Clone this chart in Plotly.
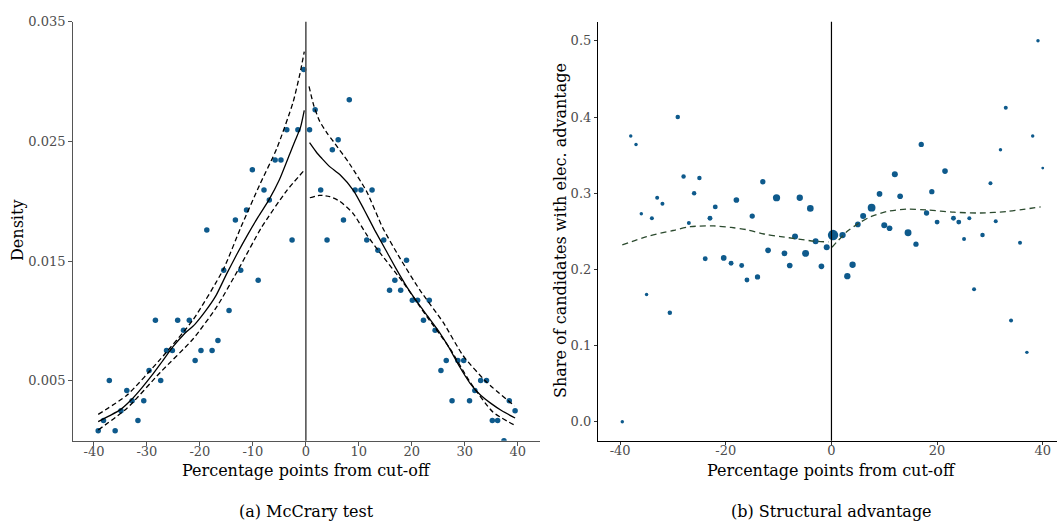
import plotly.graph_objects as go

# ---------------- (a) McCrary test: binned density around the cut-off ----------------
bins_below = [-39.2, -38.2, -37.1, -36.0, -34.9, -33.8, -32.8, -31.7, -30.6, -29.6,
              -28.4, -27.4, -26.3, -25.2, -24.2, -23.1, -22.0, -20.9, -19.8, -18.7,
              -17.7, -16.6, -15.5, -14.5, -13.3, -12.3, -11.2, -10.1, -9.0, -7.9,
              -6.9, -5.8, -4.7, -3.6, -2.6, -1.5, -0.4]
density_below = [0.00084, 0.00168, 0.00503, 0.00084, 0.00251, 0.00419, 0.00335, 0.00168,
                 0.00335, 0.00587, 0.01006, 0.00503, 0.00754, 0.00754, 0.01006, 0.00922,
                 0.01006, 0.00670, 0.00754, 0.01760, 0.00754, 0.00838, 0.01425, 0.01089,
                 0.01844, 0.01425, 0.01927, 0.02263, 0.01341, 0.02095, 0.02011, 0.02346,
                 0.02346, 0.02598, 0.01676, 0.02598, 0.03101]

bins_above = [0.7, 1.75, 2.8, 4.0, 5.0, 6.1, 7.1, 8.2, 9.3, 10.4, 11.5, 12.5, 13.6, 14.7,
              15.8, 16.8, 17.9, 19.0, 20.1, 21.1, 22.2, 23.3, 24.4, 25.5, 26.5, 27.6,
              28.7, 29.8, 30.9, 31.9, 33.0, 34.1, 35.2, 36.2, 37.4, 38.4, 39.5]
density_above = [0.02598, 0.02765, 0.02095, 0.01676, 0.02430, 0.02514, 0.01844, 0.02849,
                 0.02095, 0.02095, 0.01676, 0.02095, 0.01592, 0.01676, 0.01257, 0.01341,
                 0.01257, 0.01508, 0.01173, 0.01173, 0.01006, 0.01173, 0.00922, 0.00587,
                 0.00670, 0.00335, 0.00670, 0.00670, 0.00335, 0.00419, 0.00503, 0.00503,
                 0.00168, 0.00168, 0.0, 0.00335, 0.00251]

# local linear density fit and 95% band, left of the cut-off
fit_below_x = [-39.2, -37, -35, -33, -31, -29, -27, -25, -23, -21, -19, -17, -15, -13,
               -11, -9, -7, -5, -3, -2, -1, -0.3]
fit_below_y = [0.0016, 0.0021, 0.0026, 0.0034, 0.0044, 0.0055, 0.0067, 0.0079, 0.0089,
               0.0097, 0.0108, 0.0121, 0.0139, 0.0156, 0.0172, 0.0187, 0.0201, 0.0218,
               0.0240, 0.0251, 0.0262, 0.0276]
hi_below_x = [-39.2, -33.8, -27.5, -21.3, -15.6, -12.3, -8.7, -5.5, -2.4, -1.1, -0.3]
hi_below_y = [0.0022, 0.0038, 0.0068, 0.0101, 0.0143, 0.0178, 0.0214, 0.0244, 0.0283,
              0.0307, 0.0325]
lo_below_x = [-39.2, -33.8, -27.5, -21.3, -16.8, -12.5, -8.4, -3.6, -0.3]
lo_below_y = [0.0009, 0.0027, 0.0057, 0.0085, 0.0112, 0.0145, 0.0178, 0.0209, 0.0226]

# same, right of the cut-off
fit_above_x = [0.7, 2, 3, 4.5, 6.5, 9, 11, 13, 15, 17, 19, 21, 23, 25, 27, 29, 31, 33,
               35, 37, 39.5]
fit_above_y = [0.0249, 0.0241, 0.0236, 0.0229, 0.0222, 0.0209, 0.0193, 0.0176, 0.0160,
               0.0144, 0.0129, 0.0116, 0.0104, 0.0092, 0.0078, 0.0062, 0.0048, 0.0038,
               0.0031, 0.0025, 0.0019]
hi_above_x = [0.6, 1.5, 2.6, 4, 5.2, 8.3, 11.5, 14.5, 17.7, 21.5, 25.9, 29.7, 34.1, 39.4]
hi_above_y = [0.0296, 0.0280, 0.0267, 0.0257, 0.0250, 0.0231, 0.0208, 0.0178, 0.0153,
              0.0126, 0.0099, 0.0071, 0.0049, 0.0029]
lo_above_x = [0.75, 2.6, 4.5, 6.4, 8.9, 11.5, 14.0, 18.4, 22.8, 27.2, 31.0, 35.3, 39.4]
lo_above_y = [0.0203, 0.0205, 0.0204, 0.0200, 0.0190, 0.0172, 0.0157, 0.0132, 0.0104,
              0.0077, 0.0049, 0.0024, 0.0013]

# ---------------- (b) Structural advantage ----------------
margin_pp = [-39.6, -38.0, -37.0, -36.0, -35.0, -34.0, -33.0, -32.0, -30.6, -29.1,
             -28.0, -27.0, -26.0, -25.0, -23.9, -23.0, -22.0, -20.4, -19.0, -18.0,
             -17.0, -16.0, -15.0, -14.0, -13.0, -12.0, -10.4, -8.9, -7.9, -6.9,
             -6.0, -4.9, -4.0, -3.0, -1.9, -0.9, 0.3, 2.1, 3.0, 4.0,
             5.0, 6.0, 7.6, 9.1, 10.0, 11.0, 12.0, 13.0, 14.5, 16.0,
             17.0, 18.0, 19.0, 20.0, 21.5, 23.1, 24.1, 25.1, 26.1, 27.0,
             28.6, 30.1, 31.1, 32.0, 33.0, 34.0, 35.7, 37.0, 38.1, 39.1, 40.0]
share_adv = [0.000, 0.375, 0.364, 0.273, 0.167, 0.267, 0.294, 0.286, 0.143, 0.400,
             0.322, 0.261, 0.300, 0.320, 0.214, 0.267, 0.282, 0.215, 0.208, 0.291,
             0.205, 0.186, 0.270, 0.190, 0.315, 0.225, 0.294, 0.221, 0.205, 0.243,
             0.294, 0.221, 0.280, 0.237, 0.204, 0.229, 0.245, 0.245, 0.191, 0.206,
             0.259, 0.270, 0.281, 0.299, 0.258, 0.254, 0.325, 0.296, 0.248, 0.233,
             0.364, 0.274, 0.302, 0.262, 0.329, 0.267, 0.262, 0.240, 0.267, 0.174,
             0.245, 0.313, 0.263, 0.357, 0.412, 0.133, 0.235, 0.091, 0.375, 0.500, 0.333]
n_obs = [3, 3, 3, 3, 3, 4, 4, 4, 5, 5,
         5, 4, 5, 5, 6, 6, 6, 8, 6, 8,
         6, 6, 7, 7, 7, 8, 13, 8, 8, 9,
         10, 12, 11, 9, 8, 9, 27, 10, 10, 10,
         8, 9, 15, 8, 9, 8, 9, 8, 12, 7,
         7, 7, 7, 6, 8, 6, 6, 4, 4, 4,
         5, 4, 4, 3, 4, 4, 4, 3, 3, 3, 2]

loess_below_x = [-39.6, -35, -30, -26.7, -22.3, -19, -16, -12.5, -9.6, -6.5, -3.3, -0.5]
loess_below_y = [0.232, 0.243, 0.251, 0.256, 0.257, 0.255, 0.252, 0.246, 0.243, 0.240,
                 0.237, 0.236]
loess_above_x = [0.1, 1, 2, 3, 4.2, 5.5, 7.4, 10.5, 14.3, 18, 23.2, 28.2, 33.2, 39.6]
loess_above_y = [0.229, 0.236, 0.243, 0.250, 0.256, 0.262, 0.269, 0.276, 0.279, 0.278,
                 0.275, 0.274, 0.276, 0.282]

FONT = "DejaVu Serif, Liberation Serif, serif"
BLUE = "#0E5A8C"
W, H = 1057, 524

fig = go.Figure()

# panel (a)
for xs, ys in [(bins_below, density_below), (bins_above, density_above)]:
    fig.add_trace(go.Scatter(x=xs, y=ys, mode="markers", xaxis="x", yaxis="y",
                             marker=dict(color=BLUE, size=5.5, opacity=1), cliponaxis=True))
for xs, ys in [(fit_below_x, fit_below_y), (fit_above_x, fit_above_y)]:
    fig.add_trace(go.Scatter(x=xs, y=ys, mode="lines", xaxis="x", yaxis="y",
                             line=dict(color="black", width=1.3, shape="spline", smoothing=0.6)))
for xs, ys in [(hi_below_x, hi_below_y), (lo_below_x, lo_below_y),
               (hi_above_x, hi_above_y), (lo_above_x, lo_above_y)]:
    fig.add_trace(go.Scatter(x=xs, y=ys, mode="lines", xaxis="x", yaxis="y",
                             line=dict(color="black", width=1.3, dash="5px,3px",
                                       shape="spline", smoothing=0.6)))

# panel (b)
fig.add_trace(go.Scatter(x=margin_pp, y=share_adv, mode="markers", xaxis="x2", yaxis="y2",
                         marker=dict(color=BLUE, size=n_obs, sizemode="area", sizeref=0.5,
                                     opacity=1, line=dict(width=0))))
for xs, ys in [(loess_below_x, loess_below_y), (loess_above_x, loess_above_y)]:
    fig.add_trace(go.Scatter(x=xs, y=ys, mode="lines", xaxis="x2", yaxis="y2",
                             line=dict(color="#2B4A2E", width=1.3, dash="6px,4px",
                                       shape="spline", smoothing=0.8)))

y_dom = [1 - 439.6 / H, 1 - 15 / H]
tick_font = dict(family=FONT, size=13, color="#4D4D4D")

axis_a = dict(showline=True, linecolor="#555555", linewidth=1.3, ticks="outside",
              ticklen=4, tickcolor="#555555", tickwidth=1.1, showgrid=False,
              zeroline=False, tickfont=tick_font)
axis_b = dict(showline=True, linecolor="black", linewidth=1.2, ticks="outside",
              ticklen=3, tickcolor="#333333", tickwidth=1, showgrid=False,
              zeroline=False, tickfont=tick_font)

x_ticks_a = [-40, -30, -20, -10, 0, 10, 20, 30, 40]
y_ticks_a = [0.005, 0.015, 0.025, 0.035]
x_ticks_b = [-40, -20, 0, 20, 40]
y_ticks_b = [0.0, 0.1, 0.2, 0.3, 0.4, 0.5]

fig.update_layout(
    width=W, height=H, margin=dict(l=0, r=0, t=0, b=0),
    paper_bgcolor="white", plot_bgcolor="white", showlegend=False,
    font=dict(family=FONT, color="black"),
    xaxis=dict(axis_a, domain=[73.3 / W, 540 / W], range=[-43.9, 44.2], anchor="y",
               tickvals=x_ticks_a, ticktext=[str(v) for v in x_ticks_a],
               ticklabelstandoff=-5),
    yaxis=dict(axis_a, domain=y_dom, range=[0, 0.035], anchor="x",
               tickvals=y_ticks_a, ticktext=[f"{v:.3f}" for v in y_ticks_a]),
    xaxis2=dict(axis_b, domain=[598 / W, 1.0], range=[-44.2, 42.7], anchor="y2",
                tickvals=x_ticks_b, ticktext=[str(v) for v in x_ticks_b],
                ticklabelstandoff=-5),
    yaxis2=dict(axis_b, domain=y_dom, range=[-0.025, 0.525], anchor="x2",
                tickvals=y_ticks_b, ticktext=[f"{v:.1f}" for v in y_ticks_b]),
)

# cut-off lines
fig.add_shape(type="line", xref="x", yref="y domain", x0=0, x1=0, y0=0, y1=1,
              line=dict(color="#555555", width=1.6))
fig.add_shape(type="line", xref="x2", yref="y2 domain", x0=0, x1=0, y0=0, y1=1,
              line=dict(color="black", width=1.2))

def label(text, px, py, size=16, angle=0):
    fig.add_annotation(text=text, x=px / W, y=1 - py / H, xref="paper", yref="paper",
                       showarrow=False, textangle=angle, xanchor="center", yanchor="middle",
                       font=dict(family=FONT, size=size, color="black"))

label("Percentage points from cut-off", 306.6, 470)
label("Percentage points from cut-off", 831, 470)
label("Density", 18, 227, angle=-90)
label("Share of candidates with elec. advantage", 561, 227, angle=-90)
label("(a) McCrary test", 306.6, 511)
label("(b) Structural advantage", 831, 511)

fig.write_html("out.html")
